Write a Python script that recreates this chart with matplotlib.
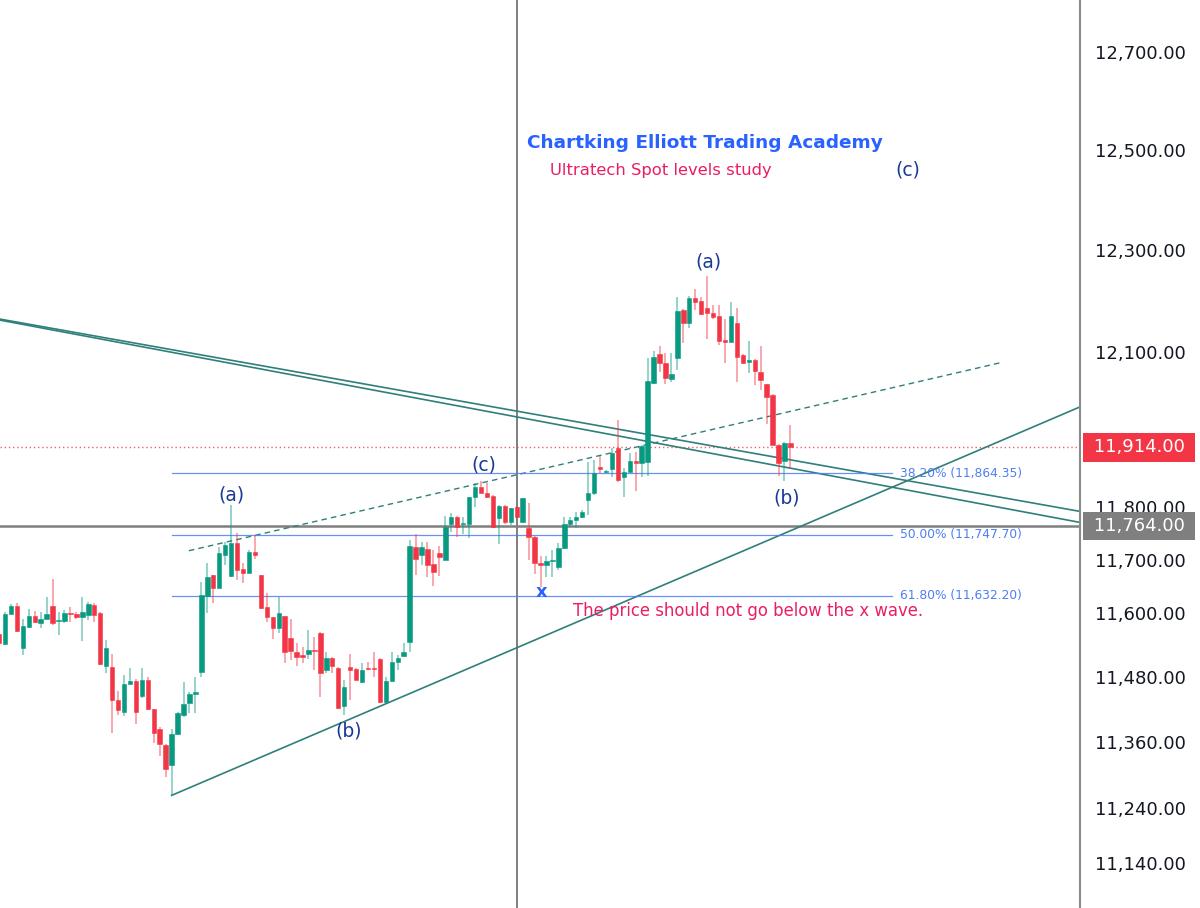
import matplotlib.pyplot as plt
import numpy as np
from matplotlib.ticker import FixedLocator, FuncFormatter, NullLocator
import matplotlib.transforms as mtransforms

# OHLC (oldest -> newest)
opens = [11561, 11542, 11598, 11613, 11535, 11574, 11594, 11581, 11589, 11613,
         11585, 11585, 11600, 11598, 11592, 11596, 11615, 11600, 11501, 11499,
         11438, 11416, 11468, 11473, 11445, 11475, 11421, 11385, 11355, 11318,
         11375, 11410, 11432, 11449, 11490, 11632, 11671, 11647, 11709, 11669,
         11732, 11683, 11675, 11715, 11671, 11611, 11592, 11572, 11594, 11553,
         11527, 11522, 11524, 11531, 11563, 11494, 11516, 11498, 11427, 11499,
         11496, 11471, 11498, 11498, 11514, 11434, 11473, 11509, 11520, 11546,
         11724, 11709, 11720, 11692, 11713, 11700, 11768, 11781, 11768, 11768,
         11819, 11838, 11827, 11821, 11779, 11802, 11771, 11800, 11771, 11760,
         11743, 11694, 11690, 11698, 11686, 11722, 11768, 11775, 11781, 11813,
         11827, 11877, 11867, 11873, 11913, 11857, 11867, 11888, 11884, 11886,
         12039, 12096, 12078, 12047, 12088, 12182, 12156, 12205, 12199, 12185,
         12176, 12170, 12123, 12119, 12156, 12094, 12080, 12084, 12061, 12036,
         12016, 11919, 11888, 11923]
highs = [11564, 11602, 11617, 11619, 11589, 11607, 11604, 11602, 11630, 11664,
         11602, 11605, 11611, 11602, 11630, 11620, 11619, 11601, 11550, 11524,
         11455, 11484, 11497, 11477, 11497, 11481, 11422, 11388, 11356, 11385,
         11415, 11471, 11453, 11481, 11658, 11694, 11672, 11724, 11734, 11804,
         11751, 11694, 11718, 11747, 11672, 11637, 11593, 11630, 11595, 11589,
         11544, 11537, 11568, 11555, 11564, 11527, 11517, 11499, 11475, 11524,
         11497, 11507, 11509, 11527, 11515, 11481, 11526, 11522, 11544, 11737,
         11749, 11734, 11734, 11718, 11726, 11783, 11788, 11782, 11781, 11820,
         11846, 11850, 11846, 11822, 11803, 11803, 11799, 11801, 11818, 11807,
         11744, 11707, 11707, 11718, 11732, 11781, 11781, 11790, 11794, 11886,
         11890, 11898, 11871, 11913, 11967, 11875, 11904, 11906, 11918, 12088,
         12102, 12111, 12098, 12098, 12207, 12183, 12209, 12223, 12207, 12248,
         12191, 12191, 12164, 12197, 12185, 12095, 12121, 12085, 12111, 12037,
         12017, 11920, 11925, 11958]
lows = [11540, 11540, 11597, 11565, 11522, 11572, 11581, 11572, 11588, 11577,
        11559, 11581, 11583, 11589, 11548, 11587, 11583, 11503, 11488, 11377,
        11410, 11409, 11467, 11394, 11441, 11420, 11359, 11335, 11296, 11263,
        11373, 11407, 11414, 11414, 11481, 11600, 11618, 11646, 11690, 11668,
        11662, 11656, 11674, 11701, 11608, 11583, 11551, 11563, 11507, 11512,
        11501, 11507, 11514, 11494, 11444, 11488, 11488, 11422, 11410, 11438,
        11474, 11470, 11494, 11481, 11432, 11432, 11472, 11494, 11518, 11527,
        11671, 11690, 11667, 11650, 11669, 11699, 11753, 11743, 11749, 11741,
        11800, 11826, 11818, 11761, 11730, 11768, 11766, 11780, 11770, 11700,
        11673, 11649, 11667, 11667, 11681, 11721, 11762, 11760, 11779, 11785,
        11823, 11865, 11865, 11857, 11848, 11819, 11866, 11831, 11857, 11859,
        12036, 12061, 12036, 12041, 12065, 12117, 12146, 12182, 12172, 12125,
        12164, 12113, 12078, 12118, 12041, 12077, 12059, 12034, 12026, 11960,
        11918, 11859, 11850, 11873]
closes = [11544, 11598, 11613, 11566, 11576, 11594, 11583, 11589, 11598, 11581,
          11587, 11600, 11598, 11592, 11602, 11617, 11596, 11505, 11535, 11438,
          11420, 11468, 11473, 11416, 11475, 11421, 11377, 11357, 11311, 11375,
          11414, 11431, 11449, 11453, 11633, 11667, 11647, 11713, 11728, 11732,
          11681, 11675, 11715, 11709, 11609, 11592, 11572, 11600, 11527, 11529,
          11518, 11518, 11531, 11529, 11488, 11516, 11501, 11423, 11462, 11494,
          11475, 11494, 11496, 11496, 11434, 11473, 11509, 11516, 11527, 11726,
          11701, 11724, 11690, 11677, 11705, 11762, 11781, 11762, 11770, 11819,
          11838, 11827, 11819, 11762, 11802, 11771, 11798, 11781, 11817, 11743,
          11694, 11690, 11698, 11700, 11722, 11768, 11775, 11781, 11790, 11827,
          11865, 11873, 11869, 11904, 11852, 11867, 11888, 11884, 11917, 12043,
          12090, 12078, 12049, 12057, 12180, 12156, 12205, 12197, 12174, 12176,
          12168, 12121, 12119, 12170, 12090, 12078, 12084, 12063, 12045, 12012,
          11919, 11884, 11923, 11914]

# drawings (bar index, price)
falling_1 = ([0, 182], [12164, 11791])
falling_2 = ([0, 182], [12162, 11770])
rising = ([29, 182], [11263, 11994])
dashed = ([31.9, 168.2], [11717, 12078])

fib_start, fib_end = 29, 150
fib_levels = [11864.35, 11747.70, 11632.20]
fib_names = ["38.20%", "50.00%", "61.80%"]

last_price = 11914
cross_price = 11764
cross_bar = 87

wave_text = ["(a)", "(b)", "(c)", "x", "(a)", "(b)", "(c)"]
wave_bar = [39.0, 58.8, 81.5, 91.25, 119.15, 132.3, 152.8]
wave_price = [11823, 11381, 11880, 11639, 12276, 11817, 12460]

yticks = [12700, 12500, 12300, 12100, 11800, 11700, 11600, 11480, 11360, 11240, 11140]

GREEN = "#089981"
RED = "#F23645"
TEAL = "#2f7f7b"
FIB = "#4d7ef2"
NAVY = "#1c3a94"
PINK = "#E91E63"

fig = plt.figure(figsize=(12, 9.08), dpi=100)
ax = fig.add_axes([0, 0, 1080 / 1200, 1])
ax.set_yscale("log")

o = np.array(opens, float)
h = np.array(highs, float)
l = np.array(lows, float)
c = np.array(closes, float)
x = np.arange(len(o))
up = c >= o
cols = np.where(up, GREEN, RED)

ax.vlines(x, l, h, colors=cols, linewidth=1.2, alpha=0.5, zorder=3)
bottom = np.minimum(o, c)
height = np.maximum(np.abs(c - o), 1.5)
ax.bar(x, height, bottom=bottom, width=0.74, color=cols, edgecolor=cols,
       linewidth=0.4, zorder=4)

# trend lines
ax.plot(*falling_1, color=TEAL, lw=1.2, zorder=2)
ax.plot(*falling_2, color=TEAL, lw=1.2, zorder=2)
ax.plot(*rising, color=TEAL, lw=1.2, zorder=2)
ax.plot(*dashed, color=TEAL, lw=1.0, dashes=(4, 3), zorder=2)

# fib retracement
for lev, name in zip(fib_levels, fib_names):
    ax.plot([fib_start, fib_end], [lev, lev], color=FIB, lw=0.9, alpha=0.85, zorder=2)
    ax.text(fib_end + 1.5, lev, f"{name} ({lev:,.2f})", color=FIB, fontsize=8.8,
            ha="left", va="center", zorder=5)

# crosshair and last price
ax.axvline(cross_bar, color="#7f7f7f", lw=1.4, zorder=1)
ax.axhline(cross_price, color="#7f7f7f", lw=1.8, zorder=1)
ax.axhline(last_price, color=RED, lw=1.0, ls=(0, (1, 2)), alpha=0.8, zorder=1)

# wave labels
for t, b, p in zip(wave_text, wave_bar, wave_price):
    if t == "x":
        ax.text(b, p, t, color="#2962FF", fontsize=13, fontweight="bold",
                ha="center", va="center", zorder=6)
    else:
        ax.text(b, p, t, color=NAVY, fontsize=13.5, ha="center", va="center", zorder=6)

ax.text(96.5, 11604, "The price should not go below the x wave.", color=PINK,
        fontsize=11.9, ha="left", va="center", zorder=6)
ax.text(527 / 1080, 1 - 143 / 908, "Chartking Elliott Trading Academy",
        transform=ax.transAxes, color="#2962FF", fontsize=13.3, fontweight="bold",
        ha="left", va="center")
ax.text(550 / 1080, 1 - 171 / 908, "Ultratech Spot levels study",
        transform=ax.transAxes, color=PINK, fontsize=11.8, ha="left", va="center")

# axes styling
ax.set_xlim(0.16, 181.67)
ax.set_ylim(11060, 12807)
ax.xaxis.set_major_locator(NullLocator())
ax.xaxis.set_minor_locator(NullLocator())
ax.yaxis.set_major_locator(FixedLocator(yticks))
ax.yaxis.set_minor_locator(NullLocator())
ax.yaxis.set_major_formatter(FuncFormatter(lambda v, _: f"{v:,.2f}"))
ax.yaxis.tick_right()
ax.tick_params(axis="y", length=0, pad=10.5, labelsize=13, labelcolor="#131722")
for s in ["top", "left", "bottom"]:
    ax.spines[s].set_visible(False)
ax.spines["right"].set_color("#8a8a8a")
ax.spines["right"].set_linewidth(1.5)

# price axis badges
trans = mtransforms.blended_transform_factory(ax.transAxes, ax.transData)
for p, bg in [(last_price, RED), (cross_price, "#7f7f7f")]:
    ax.text(1139 / 1080, p, f" {p:,.2f} ", transform=trans, color="white",
            fontsize=13, ha="center", va="center", clip_on=False, zorder=10,
            bbox=dict(boxstyle="square,pad=0.28", fc=bg, ec="none"))

fig.savefig("out.png", dpi=100)
